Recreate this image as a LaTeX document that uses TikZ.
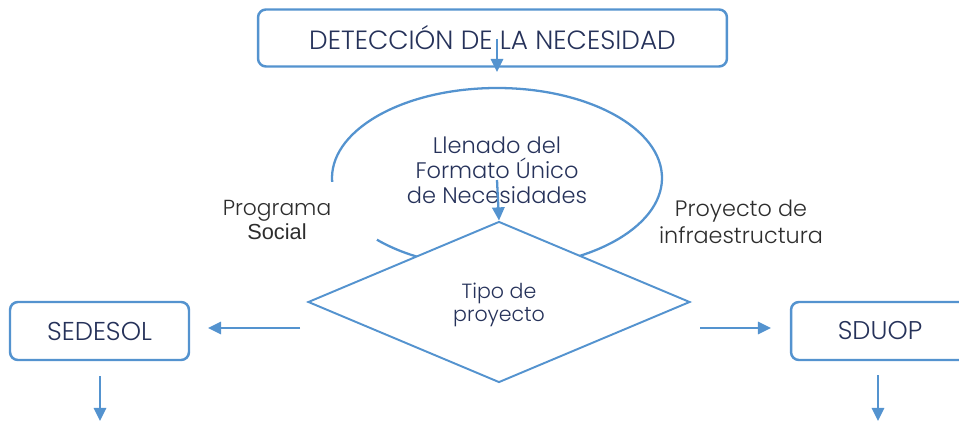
\documentclass[tikz,border=0pt]{standalone}
\usepackage{fontspec}
\setmainfont{Poppins Light}
\newfontfamily\arialfont{Liberation Sans}
\usetikzlibrary{shapes.geometric,arrows.meta}

\definecolor{lineblue}{RGB}{84,147,207}
\definecolor{textnavy}{RGB}{38,50,90}
\definecolor{labelgray}{RGB}{45,45,45}

\tikzset{
    flowbox/.style={draw=lineblue, line width=1.4pt, rounded corners=4.5pt, fill=white,
        text=textnavy, inner sep=0pt},
    decisionbox/.style={draw=lineblue, line width=1.1pt, diamond, fill=white, inner sep=0pt},
    flowarrow/.style={draw=lineblue, line width=1.3pt, -{Triangle[length=7.5pt,width=7pt]}},
    sidelabel/.style={text=labelgray, align=center}
}

\begin{document}
\begin{tikzpicture}[x=0.02cm,y=-0.02cm]

        \clip (0,0) rectangle (959,422);

        %necesidad
        \node[flowbox, minimum width=9.38cm, minimum height=1.14cm, font=\fontsize{15}{17}\selectfont]
            (detect) at (492.5,38) {DETECCIÓN DE LA NECESIDAD};

        %formato unico, open ellipse
        \draw[lineblue, line width=1.3pt] (497,178) ++(177.5:165 and 90)
            arc[start angle=177.5, end angle=496.7, x radius=165, y radius=90];
        \node[text=textnavy, align=center, font=\fontsize{12.8}{14.2}\selectfont]
            (formato) at (497,170) {Llenado del\\Formato Único\\de Necesidades};

        %tipo de proyecto
        \node[decisionbox, minimum width=7.64cm, minimum height=3.22cm] (tipo) at (499,302) {};
        \node[text=textnavy, align=center, font=\fontsize{11.7}{13.5}\selectfont]
            (tipotext) at (499,305) {Tipo de\\proyecto};

        %dependencias
        \node[flowbox, minimum width=3.58cm, minimum height=1.16cm, font=\fontsize{14.7}{16}\selectfont]
            (sedesol) at (99.5,331) {SEDESOL};
        \node[flowbox, minimum width=3.56cm, minimum height=1.16cm, font=\fontsize{14.6}{16}\selectfont]
            (sduop) at (880,331) {SDUOP};

        %ramas
        \node[sidelabel, font=\fontsize{12.4}{14.2}\selectfont] (social) at (277,220)
            {Programa\\{\arialfont Social}};
        \node[sidelabel, font=\fontsize{12.7}{15.5}\selectfont] (infra) at (741,222)
            {Proyecto de\\infraestructura};

        %---------------------
        \coordinate (detectout) at (497,39);
        \coordinate (formatoout) at (497,180);
        \coordinate (leftout) at (300,328);
        \coordinate (rightout) at (700,328);
        \coordinate (sedesolin) at (208,328);
        \coordinate (sduopin) at (771,328);
        \coordinate (sedesoldown) at (100,421);
        \coordinate (sduopdown) at (878,421);

        \draw[flowarrow] (detectout) -- (497,72);
        \draw[flowarrow] (formatoout) -- (tipo.north);
        \draw[flowarrow] (leftout) -- (sedesolin);
        \draw[flowarrow] (rightout) -- (sduopin);
        \draw[flowarrow] (sedesol.south -| sedesoldown) ++(0,15) -- (sedesoldown);
        \draw[flowarrow] (sduop.south -| sduopdown) ++(0,14) -- (sduopdown);

    \end{tikzpicture}
\end{document}
